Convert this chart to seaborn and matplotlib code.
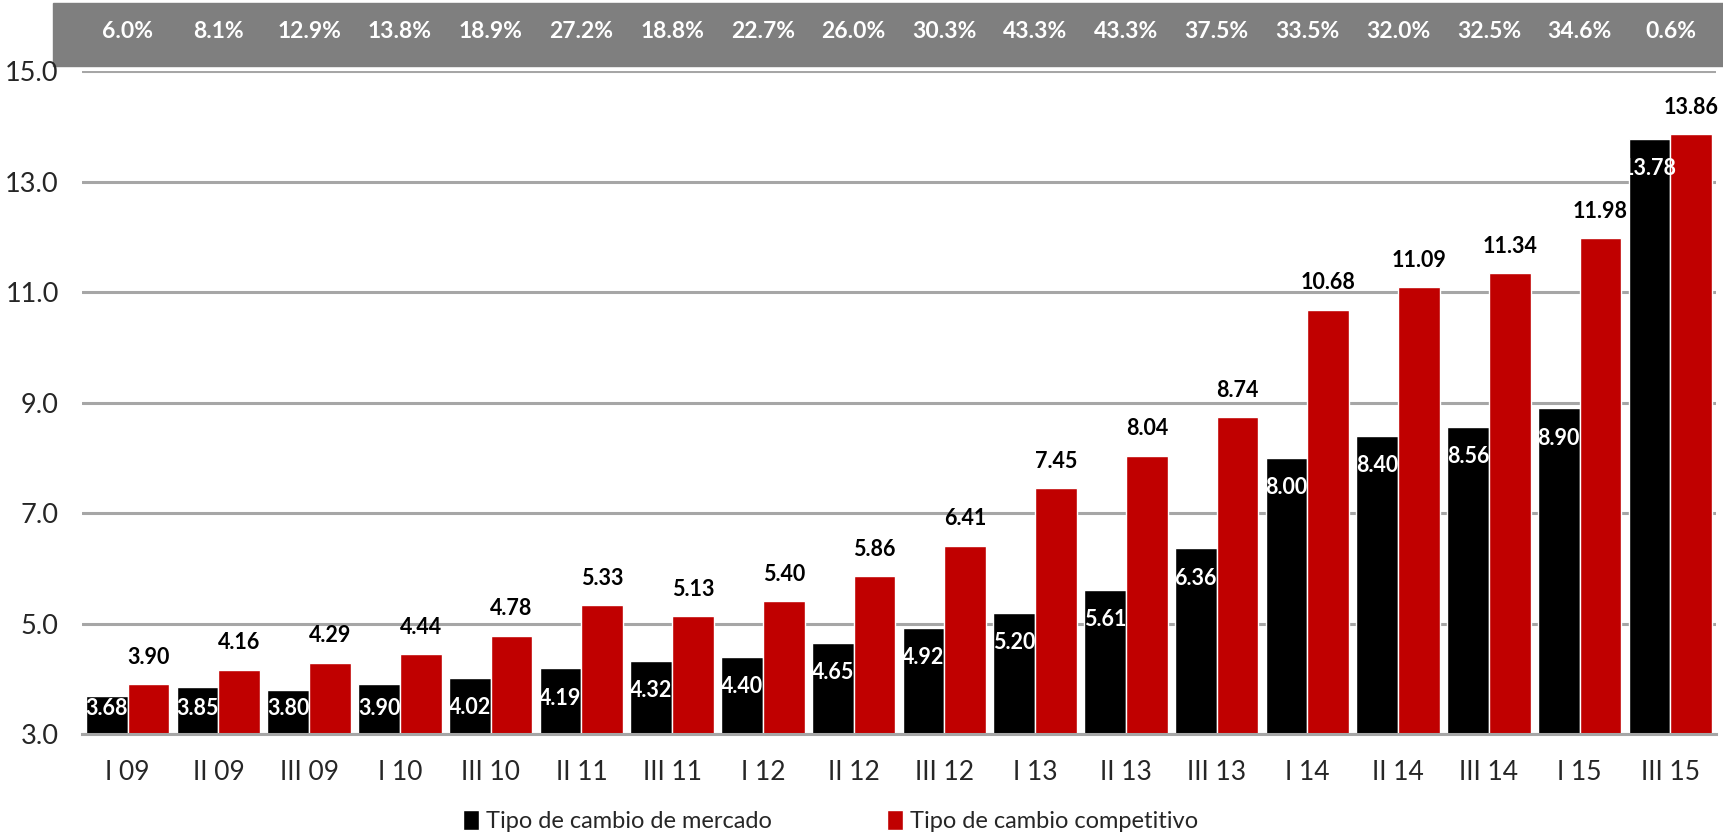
import matplotlib
matplotlib.use("Agg")
import matplotlib.pyplot as plt
import matplotlib.patches as mpatches
import matplotlib.transforms as mtransforms
import numpy as np
import pandas as pd
import seaborn as sns

categorias = ["I 09", "II 09", "III 09", "I 10", "III 10", "II 11", "III 11", "I 12",
              "II 12", "III 12", "I 13", "II 13", "III 13", "I 14", "II 14", "III 14",
              "I 15", "III 15"]
mercado = [3.68, 3.85, 3.80, 3.90, 4.02, 4.19, 4.32, 4.40, 4.65, 4.92, 5.20, 5.61,
           6.36, 8.00, 8.40, 8.56, 8.90, 13.78]
competitivo = [3.90, 4.16, 4.29, 4.44, 4.78, 5.33, 5.13, 5.40, 5.86, 6.41, 7.45, 8.04,
               8.74, 10.68, 11.09, 11.34, 11.98, 13.86]
brecha = [6.0, 8.1, 12.9, 13.8, 18.9, 27.2, 18.8, 22.7, 26.0, 30.3, 43.3, 43.3,
          37.5, 33.5, 32.0, 32.5, 34.6, 0.6]
series = ["Tipo de cambio de mercado", "Tipo de cambio competitivo"]
yticks = [3.0, 5.0, 7.0, 9.0, 11.0, 13.0, 15.0]

sns.set_theme(style="white")
plt.rcParams["font.family"] = ["Lato", "DejaVu Sans"]

df = pd.DataFrame({
    "cat": categorias * 2,
    "serie": [series[0]] * len(categorias) + [series[1]] * len(categorias),
    "valor": mercado + competitivo,
})

fig = plt.figure(figsize=(17.23, 8.36), dpi=100)
ax = fig.add_axes([0.0478, 0.122, 0.948, 0.7926])

sns.barplot(data=df, x="cat", y="valor", hue="serie", order=categorias,
            hue_order=series, palette=["#000000", "#C00000"], width=0.92,
            gap=0, saturation=1, ax=ax, legend=True, zorder=3)

ax.set_ylim(3, 15)
ax.set_xlim(-0.5, len(categorias) - 0.5)
ax.set_yticks(yticks)
ax.set_yticklabels([f"{t:.1f}" for t in yticks], fontsize=19.5)
ax.set_xlabel("")
ax.set_ylabel("")
ax.yaxis.grid(True, color="#A6A6A6", linewidth=2.2, zorder=0)
ax.set_axisbelow(True)
for s in ["left", "right", "top"]:
    ax.spines[s].set_visible(False)
ax.spines["bottom"].set_color("#A6A6A6")
ax.spines["bottom"].set_linewidth(2.2)
ax.spines["bottom"].set_zorder(4)
ax.tick_params(axis="y", length=0, pad=17)
ax.tick_params(axis="x", which="major", length=0, pad=19, labelsize=19)
ax.set_xticks(np.arange(-0.5, len(categorias), 1.0), minor=True)
ax.tick_params(axis="x", which="minor", length=9, width=2, color="#A6A6A6",
               direction="out")

# value labels
hw = 0.23
for i, (m, c) in enumerate(zip(mercado, competitivo)):
    ym = max(m - 0.54, 3.47)
    ax.text(i - hw, ym, f"{m:.2f}", color="white", fontsize=15.5, fontweight="bold",
            ha="center", va="center", zorder=5)
    ax.text(i + hw, c + 0.49, f"{c:.2f}", color="black", fontsize=15.5,
            fontweight="bold", ha="center", va="center", zorder=5)

# banner with percentages
fig.patches.append(mpatches.Rectangle((0.031, 0.921), 0.969, 0.075,
                                      transform=fig.transFigure, color="#7F7F7F",
                                      zorder=-1))
trans = mtransforms.blended_transform_factory(ax.transData, fig.transFigure)
for i, b in enumerate(brecha):
    fig.text(i, 0.962, f"{b:.1f}%", transform=trans, color="white", fontsize=16.5,
             fontweight="bold", ha="center", va="center", zorder=5)

# legend
handles, labels = ax.get_legend_handles_labels()
ax.legend_.remove()
fig.legend(handles, labels, loc="center", bbox_to_anchor=(0.482, 0.018), ncol=2,
           frameon=False, fontsize=17, handlelength=0.7, handleheight=0.9,
           handletextpad=0.3, columnspacing=4.85)

fig.savefig("out.png", dpi=100)
